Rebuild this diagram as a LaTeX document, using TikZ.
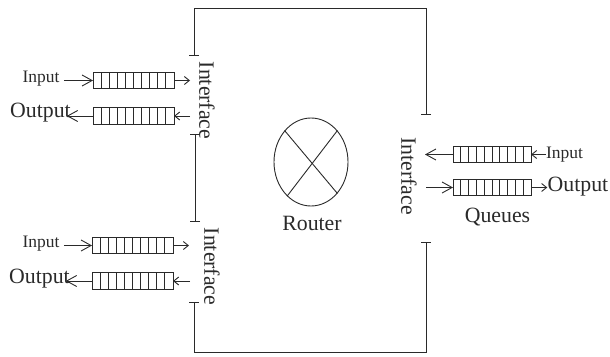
\documentclass[tikz,border=0pt]{standalone}
\usepackage{fontspec}
\setmainfont{Liberation Serif}
\usetikzlibrary{arrows.meta,calc,shapes.geometric}
\definecolor{ink}{HTML}{2A2A2A}

\begin{document}
\begin{tikzpicture}[
      x=1pt, y=-1pt, color=ink, line width=0.9pt,
      queue/.style={draw, minimum height=16.5pt, inner sep=0pt, outer sep=0pt},
      lbl/.style={font=\fontsize{21.8}{24}\selectfont, inner sep=0pt},
      lblsm/.style={font=\fontsize{17.5}{20}\selectfont, inner sep=0pt},
      iface/.style={lbl, rotate=-90},
      arr/.style={-{Straight Barb[length=10pt,width=11pt]}},
      arrsm/.style={-{Straight Barb[length=5pt,width=8pt]}},
      wire/.style={{Bar[width=10pt,length=0.9pt]}-{Bar[width=10pt,length=0.9pt]}}
    ]
    \useasboundingbox (0,0) rectangle (610,356);

    % ---- queues ----
    \foreach \qname/\qx/\qy/\qw in {qa/133.5/80.5/81, qb/133.5/116/81, qc/132.5/245.5/81, qd/132.5/281/81, qe/492/154.5/78, qf/492/187.5/78} {
      \node[queue, minimum width=\qw pt] (\qname) at (\qx,\qy) {};
      \foreach \i in {1,...,9}
        \draw ($(\qname.north west)!\i/10!(\qname.north east)$) -- ($(\qname.south west)!\i/10!(\qname.south east)$);
    }

    % ---- labels ----
    \node[lblsm] (ina) at (41,79) {Input};
    \node[lbl] (outa) at (40.5,112.5) {Output};
    \node[lblsm] (inc) at (41,244) {Input};
    \node[lbl] (outc) at (39.5,279) {Output};
    \node[lblsm] (ine) at (564.5,154.5) {Input};
    \node[lbl] (oute) at (578,187) {Output};
    \node[lbl] (queues) at (497.5,217.5) {Queues};
    \node[iface] (ifa) at (207,100.5) {Interface};
    \node[iface] (ifb) at (212,266.5) {Interface};
    \node[iface] (ifc) at (409,176) {Interface};

    % ---- router ----
    \node[draw, ellipse, minimum width=74pt, minimum height=88pt, inner sep=0pt] (router) at (311,162) {};
    \node[lbl] (routerlbl) at (312,223) {Router};
    \draw (router.130) -- (router.-50);
    \draw (router.50) -- (router.-125);

    % ---- frame ----
    \coordinate (fa) at (194,56);
    \coordinate (fb) at (194,8);
    \coordinate (fc) at (426,8);
    \coordinate (fd) at (426,115);
    \coordinate (fe) at (195,134);
    \coordinate (ff) at (195,222);
    \coordinate (fg) at (194,302);
    \coordinate (fh) at (194,352);
    \coordinate (fi) at (426,352);
    \coordinate (fj) at (426,242);
    \draw[wire] (fa) -- (fb) -- (fc) -- (fd);
    \draw[wire] (fe) -- (ff);
    \draw[wire] (fg) -- (fh) -- (fi) -- (fj);

    % ---- interface ends ----
    \coordinate (pa) at (190,80.5);
    \coordinate (pb) at (190,116);
    \coordinate (pc) at (189,245.5);
    \coordinate (pd) at (190,281);
    \coordinate (pe) at (425,154.5);
    \coordinate (pf) at (426,187.5);

    % ---- left queues ----
    \draw[arr, shorten <=4pt] (qa -| ina.east) -- (qa.west);
    \draw[arrsm] (qa.east) -- (pa);
    \draw[arr, shorten >=-4.5pt] (qb.west) -- (qb -| outa.east);
    \draw[arrsm] (pb) -- (qb.east);
    \draw[arr, shorten <=4pt] (qc -| inc.east) -- (qc.west);
    \draw[arrsm] (qc.east) -- (pc);
    \draw[arr, shorten >=-4.5pt] (qd.west) -- (qd -| outc.east);
    \draw[arrsm] (pd) -- (qd.east);

    % ---- right queues ----
    \draw[arr] (qe.west) -- (pe);
    \draw[arrsm] (qe -| ine.west) -- (qe.east);
    \draw[arr] (pf) -- (qf.west);
    \draw[arrsm] (qf.east) -- (qf -| oute.west);
  \end{tikzpicture}
\end{document}
